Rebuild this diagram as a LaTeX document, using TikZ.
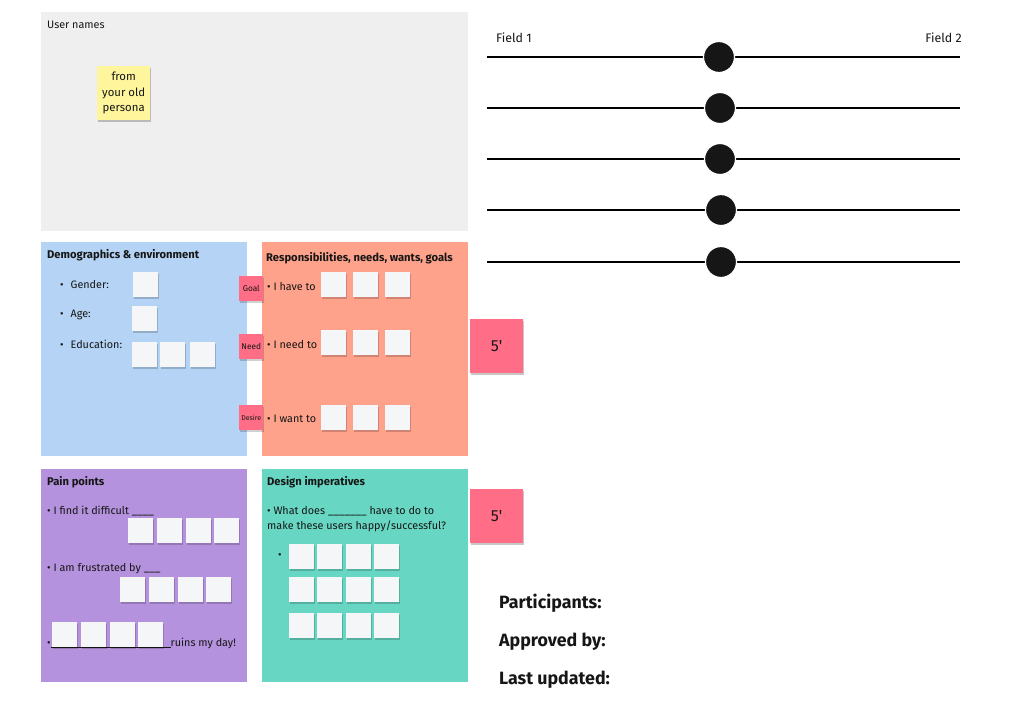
\documentclass[tikz,border=0pt]{standalone}
\usepackage{fontspec}
\setmainfont{Fira Sans}
\usetikzlibrary{shadows}
\definecolor{pgray}{HTML}{EFEFEF}
\definecolor{pblue}{HTML}{B4D3F5}
\definecolor{psalmon}{HTML}{FFA28B}
\definecolor{ppurple}{HTML}{B592DE}
\definecolor{pteal}{HTML}{67D6C2}
\definecolor{syellow}{HTML}{FFF59C}
\definecolor{spink}{HTML}{FF6E86}
\definecolor{swhite}{HTML}{F5F6F8}
\definecolor{ink}{HTML}{161616}
\tikzset{
  ws/.style={fill=swhite, anchor=north west, minimum width=25pt, minimum height=25pt, inner sep=0pt,
     drop shadow={shadow xshift=0.5pt, shadow yshift=-1.5pt, opacity=0.18, fill=black}},
  tag/.style={fill=spink, anchor=north west, minimum width=24pt, minimum height=25pt, inner sep=0pt, font=\fontsize{8.3}{9}\selectfont, text=ink,
     drop shadow={shadow xshift=0.5pt, shadow yshift=-1.5pt, opacity=0.18, fill=black}},
  five/.style={fill=spink, anchor=north west, minimum width=53pt, minimum height=54pt, inner sep=0pt, font=\fontsize{16}{18}\selectfont, text=ink,
     drop shadow={shadow xshift=1pt, shadow yshift=-2pt, opacity=0.22, fill=black}},
  txt/.style={anchor=west, inner sep=0pt, text=ink, font=\fontsize{10.8}{12}\selectfont},
  head/.style={anchor=west, inner sep=0pt, text=ink, font=\fontsize{11.2}{12}\selectfont\bfseries},
  big/.style={anchor=west, inner sep=0pt, text=ink, font=\fontsize{17.8}{20}\selectfont\bfseries},
  rail/.style={line width=2.8pt, black},
  knob/.style={circle, fill=ink, draw=white, line width=1.2pt, minimum size=31pt, inner sep=0pt},
}
\begin{document}
\begin{tikzpicture}[x=1pt,y=-1pt]
\useasboundingbox (0,0) rectangle (1024,718);
\fill[white] (0,0) rectangle (1024,718);
% panels
\fill[pgray] (41,12) rectangle (468,231);
\fill[pblue] (41,242) rectangle (247,456);
\fill[psalmon] (262,242) rectangle (468,456);
\fill[ppurple] (41,469) rectangle (247,682);
\fill[pteal] (262,469) rectangle (468,682);

% user names
\node[txt] (un) at (47,25) {User names};
\node[fill=syellow, anchor=north west, minimum width=53pt, minimum height=54pt, inner sep=0pt, align=center, text=ink,
  font=\fontsize{11.4}{15.5}\selectfont, drop shadow={shadow xshift=1pt, shadow yshift=-2pt, opacity=0.22, fill=black}] (yel) at (97,66) {from\\your old\\persona};

% demographics
\node[head] (dh) at (47,255) {Demographics \& environment};
\node[txt] (g) at (60,285) {\textbullet\hspace{7pt}Gender:};
\node[txt] (a) at (60,315) {\textbullet\hspace{7pt}Age:};
\node[txt] (e) at (60,344) {\textbullet\hspace{7pt}Education:};
\node[ws] (g1) at (133,272) {};
\node[ws] (a1) at (132,306) {};
\node[ws] (e1) at (132,342) {};
\node[ws] (e2) at (160,342) {};
\node[ws] (e3) at (190,342) {};

% responsibilities
\node[head] (rh) at (266,258) {Responsibilities, needs, wants, goals};
\node[tag] (goal) at (239,276) {Goal};
\node[tag] (need) at (239,334) {Need};
\node[tag, font=\fontsize{7}{8}\selectfont] (desire) at (239,405) {Desire};
\node[txt] (r1) at (267,287) {\textbullet\ I have to};
\node[txt] (r2) at (267,345) {\textbullet\ I need to};
\node[txt] (r3) at (267,419) {\textbullet\ I want to};
\foreach \y/\n in {272/a,330/b,405/c}{
  \node[ws] (r\n1) at (321,\y) {};
  \node[ws] (r\n2) at (353,\y) {};
  \node[ws] (r\n3) at (385,\y) {};
}

% 5' timers
\node[five] (t1) at (470,319) {5\textquotesingle};
\node[five] (t2) at (470,489) {5\textquotesingle};

% pain points
\node[head] (ph) at (47,482) {Pain points};
\node[txt] (p1) at (47,511) {\textbullet\ I find it difficult \_\_\_\_};
\node[txt] (p2) at (47,569) {\textbullet\ I am frustrated by \_\_\_};
\node[txt] (p3) at (47,643) {\textbullet\rule[-1.5pt]{120pt}{0.6pt}ruins my day!};
\foreach \x/\n in {128/1,157/2,186/3,214/4}{\node[ws] (pa\n) at (\x,518) {};}
\foreach \x/\n in {120/1,149/2,178/3,206/4}{\node[ws] (pb\n) at (\x,577) {};}
\foreach \x/\n in {52/1,81/2,110/3,138/4}{\node[ws] (pc\n) at (\x,622) {};}

% design imperatives
\node[head] (dih) at (267,482) {Design imperatives};
\node[txt] (d1) at (267,511) {\textbullet\ What does \_\_\_\_\_\_\_ have to do to};
\node[txt] (d2) at (267,526) {make these users happy/successful?};
\node[txt] (d3) at (278,556) {\textbullet};
\foreach \y/\r in {544/a,577/b,613/c}{
  \foreach \x/\n in {289/1,317/2,346/3,374/4}{\node[ws] (d\r\n) at (\x,\y) {};}
}

% sliders
\node[txt, font=\fontsize{12.4}{14}\selectfont] (f1) at (496,38) {Field 1};
\node[txt, anchor=east, font=\fontsize{12.4}{14}\selectfont] (f2) at (962,38) {Field 2};
\foreach \y/\k/\cx in {57/1/719,108/2/720,159/3/720,210/4/721,262/5/721}{
  \coordinate (l\k) at (487,\y);
  \coordinate (r\k) at (960,\y);
  \draw[rail] (l\k) -- (r\k);
  \node[knob] (k\k) at (\cx,\y) {};
}

% footer
\node[big] (part) at (499,603) {Participants:};
\node[big] (appr) at (499,642) {Approved by:};
\node[big] (last) at (499,680) {Last updated:};
\end{tikzpicture}
\end{document}
